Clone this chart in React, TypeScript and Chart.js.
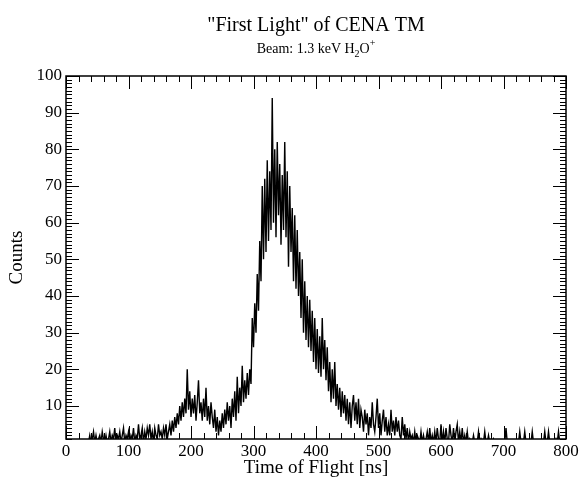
import { useEffect, useRef } from "react";
import { Chart, registerables } from "chart.js";

Chart.register(...registerables);

// Histogram: time-of-flight bins (ns) starting at T0, width BIN
const T0 = 36;
const BIN = 2;
const counts = [
  0, 2, 0, 1, 3, 0, 2, 0, 1, 2,
  0, 3, 1, 0, 2, 0, 1, 3, 0, 2,
  1, 4, 0, 2, 1, 3, 0, 2, 4, 0,
  2, 1, 3, 0, 2, 1, 4, 0, 2, 1,
  5, 1, 2, 4, 0, 3, 1, 4, 2, 5,
  1, 3, 0, 4, 2, 1, 5, 2, 3, 1,
  4, 2, 5, 1, 3, 5, 2, 6, 3, 7,
  4, 8, 5, 10, 6, 11, 7, 12, 8, 20,
  9, 14, 7, 12, 8, 13, 6, 11, 17, 8,
  11, 6, 12, 7, 15, 6, 10, 5, 11, 7,
  4, 9, 3, 7, 2, 6, 3, 8, 4, 9,
  5, 11, 6, 10, 4, 12, 7, 14, 6, 18,
  8, 15, 10, 21, 11, 17, 12, 19, 13, 20,
  16, 34, 26, 38, 30, 46, 36, 55, 44, 70,
  50, 72, 52, 77, 55, 74, 58, 94, 60, 80,
  56, 82, 62, 76, 54, 73, 58, 82, 56, 74,
  48, 70, 52, 64, 44, 62, 42, 58, 40, 52,
  34, 50, 30, 44, 28, 40, 26, 39, 25, 36,
  22, 34, 20, 31, 19, 29, 18, 34, 20, 28,
  17, 26, 14, 22, 11, 20, 12, 22, 10, 16,
  9, 15, 7, 14, 8, 13, 6, 12, 5, 11,
  4, 10, 13, 6, 11, 5, 12, 4, 9, 7,
  3, 9, 5, 8, 2, 7, 4, 11, 5, 3,
  7, 12, 4, 8, 2, 6, 9, 3, 7, 2,
  5, 2, 9, 3, 6, 2, 7, 3, 6, 2,
  1, 7, 2, 5, 1, 4, 0, 3, 1, 2,
  0, 3, 0, 2, 1, 0, 3, 0, 2, 0,
  1, 3, 0, 4, 0, 2, 0, 3, 0, 4,
  1, 0, 5, 0, 3, 0, 4, 1, 0, 5,
  2, 0, 4, 0, 3, 5, 0, 3, 0, 4,
  0, 2, 0, 3, 0, 1, 0, 0, 2, 0,
  0, 0, 3, 0, 1, 0, 0, 3, 0, 0,
  2, 0, 0, 0, 1, 0, 0, 0, 0, 0,
  0, 0, 0, 0, 4, 0, 0, 0, 0, 0,
  0, 0, 0, 0, 0, 3, 0, 0, 0, 3,
  0, 0, 0, 0, 0, 3, 0, 0, 0, 0,
  0, 0, 0, 0, 0, 3, 0, 0, 3, 0,
  0, 0, 0, 0, 1, 0, 3, 0, 0, 0,
  0, 0, 0,
];

const X_MIN = 0;
const X_MAX = 800;
const X_MAJOR = 100;
const X_MINOR = 20;
const Y_MIN = 1;
const Y_MAX = 100;
const Y_MAJOR = 10;
const Y_MINOR = 1;

const TITLE = '"First Light" of CENA TM';
const SUB_MAIN = "Beam: 1.3 keV H";
const SUB_SUB = "2";
const SUB_MID = "O";
const SUB_SUP = "+";
const X_TITLE = "Time of Flight [ns]";
const Y_TITLE = "Counts";

const FONT = '"Liberation Serif", "Times New Roman", serif';

const idlFrame = {
  id: "idlFrame",
  afterDatasetsDraw(chart: any) {
    const { ctx, chartArea, scales } = chart;
    const { left, right, top, bottom } = chartArea;
    const x = scales.x;
    const y = scales.y;
    ctx.save();
    ctx.strokeStyle = "#000";
    ctx.lineWidth = 1;
    ctx.beginPath();
    for (let v = X_MIN; v <= X_MAX; v += X_MINOR) {
      const px = Math.round(x.getPixelForValue(v)) + 0.5;
      const len = v % X_MAJOR === 0 ? 13 : 6;
      ctx.moveTo(px, bottom);
      ctx.lineTo(px, bottom - len);
      ctx.moveTo(px, top);
      ctx.lineTo(px, top + len);
    }
    for (let v = Y_MIN; v <= Y_MAX; v += Y_MINOR) {
      const py = Math.round(y.getPixelForValue(v)) + 0.5;
      const len = v % Y_MAJOR === 0 ? 13 : 6;
      ctx.moveTo(left, py);
      ctx.lineTo(left + len, py);
      ctx.moveTo(right, py);
      ctx.lineTo(right - len, py);
    }
    ctx.stroke();
    ctx.lineWidth = 1.5;
    ctx.strokeRect(left, top, right - left, bottom - top);

    // Title and subtitle
    const cx = (left + right) / 2;
    ctx.fillStyle = "#000";
    ctx.textBaseline = "alphabetic";
    ctx.textAlign = "center";
    ctx.font = `20px ${FONT}`;
    ctx.fillText(TITLE, cx, 31);

    const big = `14px ${FONT}`;
    const small = `10px ${FONT}`;
    ctx.font = big;
    const w1 = ctx.measureText(SUB_MAIN).width;
    const w3 = ctx.measureText(SUB_MID).width;
    ctx.font = small;
    const w2 = ctx.measureText(SUB_SUB).width;
    const w4 = ctx.measureText(SUB_SUP).width;
    const total = w1 + w2 + w3 + w4;
    let sx = cx - total / 2;
    const base = 53;
    ctx.textAlign = "left";
    ctx.font = big;
    ctx.fillText(SUB_MAIN, sx, base);
    sx += w1;
    ctx.font = small;
    ctx.fillText(SUB_SUB, sx, base + 4);
    sx += w2;
    ctx.font = big;
    ctx.fillText(SUB_MID, sx, base);
    sx += w3;
    ctx.font = small;
    ctx.fillText(SUB_SUP, sx, base - 7);
    ctx.restore();
  },
};

export default function App() {
  const ref = useRef<HTMLCanvasElement | null>(null);

  useEffect(() => {
    document.body.style.margin = "0";
    const canvas = ref.current;
    if (!canvas) return;
    const points = counts.map((c, i) => ({ x: T0 + i * BIN, y: c }));
    const chart = new Chart(canvas, {
      type: "line",
      data: {
        datasets: [
          {
            data: points,
            borderColor: "#000",
            borderWidth: 1.4,
            pointRadius: 0,
            tension: 0,
            fill: false,
          },
        ],
      },
      options: {
        responsive: false,
        animation: false,
        events: [],
        layout: { padding: { left: 0, right: 19, top: 76, bottom: 0 } },
        plugins: {
          legend: { display: false },
          tooltip: { enabled: false },
          title: { display: false },
        },
        scales: {
          x: {
            type: "linear",
            min: X_MIN,
            max: X_MAX,
            grid: { display: false, drawTicks: false },
            border: { display: false },
            ticks: {
              stepSize: X_MAJOR,
              color: "#000",
              font: { family: FONT, size: 17 },
              padding: 2,
              maxRotation: 0,
              autoSkip: false,
            },
            title: {
              display: true,
              text: X_TITLE,
              color: "#000",
              font: { family: FONT, size: 19 },
              padding: { top: 0, bottom: 1 },
            },
            afterFit(s: any) {
              s.height = 41;
            },
          },
          y: {
            type: "linear",
            min: Y_MIN,
            max: Y_MAX,
            grid: { display: false, drawTicks: false },
            border: { display: false },
            ticks: {
              stepSize: Y_MAJOR,
              includeBounds: false,
              color: "#000",
              font: { family: FONT, size: 17 },
              padding: 4,
            },
            title: {
              display: true,
              text: Y_TITLE,
              color: "#000",
              font: { family: FONT, size: 19 },
              padding: { top: 6, bottom: 0 },
            },
            afterFit(s: any) {
              s.width = 66;
            },
          },
        },
      },
      plugins: [idlFrame],
    });
    return () => chart.destroy();
  }, []);

  return <canvas ref={ref} width={585} height={480} style={{ display: "block" }} />;
}
